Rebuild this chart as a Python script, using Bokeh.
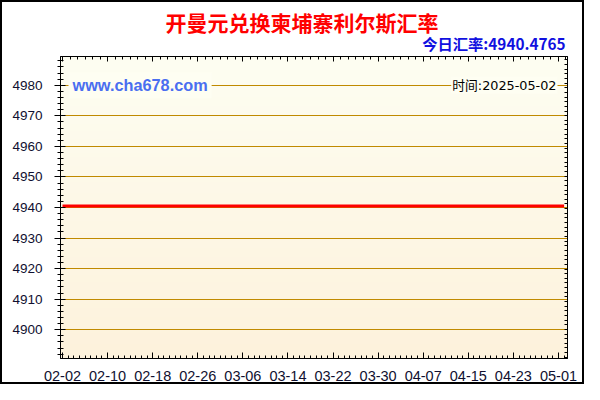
import numpy as np
import pandas as pd
from bokeh.plotting import figure
from bokeh.models import (Range1d, LinearAxis, DatetimeAxis, FixedTicker,
                          SingleIntervalTicker, Label, DatetimeTickFormatter, Grid,
                          Title)
from bokeh.embed import file_html
from bokeh.resources import INLINE

# ---------------- data ----------------
TITLE = "开曼元兑换柬埔寨利尔斯汇率"
TODAY_RATE = "今日汇率:4940.4765"
SITE = "www.cha678.com"
TIME_TEXT = "时间:2025-05-02"

START_DATE = "2025-02-02"
END_DATE = "2025-05-02"

FEB_VALUES = [4940.4765, 4940.4765, 4940.4765, 4940.4765, 4940.4765, 4940.4765, 4940.4765,
              4940.4765, 4940.4765, 4940.4765, 4940.4765, 4940.4765, 4940.4765, 4940.4765,
              4940.4765, 4940.4765, 4940.4765, 4940.4765, 4940.4765, 4940.4765, 4940.4765,
              4940.4765, 4940.4765, 4940.4765, 4940.4765, 4940.4765, 4940.4765]
MAR_VALUES = [4940.4765, 4940.4765, 4940.4765, 4940.4765, 4940.4765, 4940.4765, 4940.4765,
              4940.4765, 4940.4765, 4940.4765, 4940.4765, 4940.4765, 4940.4765, 4940.4765,
              4940.4765, 4940.4765, 4940.4765, 4940.4765, 4940.4765, 4940.4765, 4940.4765,
              4940.4765, 4940.4765, 4940.4765, 4940.4765, 4940.4765, 4940.4765, 4940.4765,
              4940.4765, 4940.4765, 4940.4765]
APR_VALUES = [4940.4765, 4940.4765, 4940.4765, 4940.4765, 4940.4765, 4940.4765, 4940.4765,
              4940.4765, 4940.4765, 4940.4765, 4940.4765, 4940.4765, 4940.4765, 4940.4765,
              4940.4765, 4940.4765, 4940.4765, 4940.4765, 4940.4765, 4940.4765, 4940.4765,
              4940.4765, 4940.4765, 4940.4765, 4940.4765, 4940.4765, 4940.4765, 4940.4765,
              4940.4765, 4940.4765]
MAY_VALUES = [4940.4765, 4940.4765]

TICK_LABELS = ["02-02", "02-10", "02-18", "02-26", "03-06", "03-14",
               "03-22", "03-30", "04-07", "04-15", "04-23", "05-01"]

Y_MIN, Y_MAX = 4890.6, 4989.4
Y_TICK_STEP = 10
Y_TOP_GRID = 4980

# ---------------- derived ----------------
dates = pd.date_range(START_DATE, END_DATE, freq="D")
values = FEB_VALUES + MAR_VALUES + APR_VALUES + MAY_VALUES

def ms(ts):
    return pd.Timestamp(ts).value // 10**6

DAY = 86400000
x_start = ms(START_DATE) - int(0.355 * DAY)
x_end = ms(END_DATE) + int(0.6 * DAY)

major_ms = [ms("2025-" + t) for t in TICK_LABELS]
day_ms = [ms(d) for d in dates]
top_minor = list(np.arange(major_ms[0], x_end, 8 * DAY / 6))
right_minor = list(np.arange(Y_MIN + 0.4, Y_MAX, 1.52))

p = figure(width=584, height=384, output_backend="svg", toolbar_location=None,
           title=None, x_axis_type=None, y_axis_type=None,
           x_range=Range1d(x_start, x_end), y_range=Range1d(Y_MIN, Y_MAX),
           min_border_left=58, min_border_right=19, min_border_top=54,
           min_border_bottom=28)
p.styles = {"border": "2px solid black"}
p.border_fill_color = "white"
p.outline_line_color = "black"

# gradient background of the plotting area
n = 300
top = np.array([254, 254, 242])
bot = np.array([253, 242, 220])
t = np.linspace(0, 1, n)[:, None]
cols = (bot[None, :] * (1 - t) + top[None, :] * t).astype(np.uint32)
img = np.zeros((n, 1), dtype=np.uint32)
view = img.view(dtype=np.uint8).reshape((n, 1, 4))
view[:, 0, 0] = cols[:, 0]
view[:, 0, 1] = cols[:, 1]
view[:, 0, 2] = cols[:, 2]
view[:, 0, 3] = 255
p.image_rgba(image=[img], x=x_start, y=Y_MIN, dw=x_end - x_start, dh=Y_MAX - Y_MIN,
             level="image")

yticker = SingleIntervalTicker(interval=Y_TICK_STEP, num_minor_ticks=5)
p.add_layout(Grid(dimension=1, ticker=yticker, grid_line_color="#c08a00",
                  grid_line_width=1, level="underlay"))

lab_color = "#101030"
left = LinearAxis(ticker=yticker, major_tick_in=5, major_tick_out=6,
                  minor_tick_in=3, minor_tick_out=3, major_label_standoff=12,
                  major_label_text_font="Liberation Sans",
                  major_label_text_font_size="13.5px",
                  major_label_text_color=lab_color,
                  axis_line_color="black", major_tick_line_color="black",
                  minor_tick_line_color="black")
p.add_layout(left, "left")

fmt = DatetimeTickFormatter(days="%m-%d", months="%m-%d", hours="%m-%d",
                            years="%m-%d")
bottom = DatetimeAxis(ticker=FixedTicker(ticks=major_ms, minor_ticks=day_ms),
                      formatter=fmt, major_tick_in=6, major_tick_out=0,
                      minor_tick_in=3, minor_tick_out=0, major_label_standoff=12,
                      major_label_text_font="Liberation Sans",
                      major_label_text_font_size="14.5px",
                      major_label_text_color=lab_color,
                      axis_line_color="black")
p.add_layout(bottom, "below")

topax = DatetimeAxis(ticker=FixedTicker(ticks=major_ms, minor_ticks=top_minor),
                     formatter=fmt, major_tick_in=5, major_tick_out=0,
                     minor_tick_in=3, minor_tick_out=0,
                     major_label_text_font_size="1px", major_label_text_color=None,
                     major_label_standoff=0, axis_line_color="black")
p.add_layout(topax, "above")

# sub title next to the frame, main title above it
p.add_layout(Title(text=TODAY_RATE, align="right", offset=2,
                   text_font="Noto Sans CJK SC", text_font_style="bold",
                   text_font_size="15.3px", text_color="#1010e0", standoff=5),
             "above")
p.add_layout(Title(text=TITLE, align="left", offset=105,
                   text_font="Noto Sans CJK SC", text_font_style="bold",
                   text_font_size="21px", text_color="#ff0000", standoff=-18),
             "above")

rightax = LinearAxis(ticker=FixedTicker(ticks=[], minor_ticks=right_minor),
                     major_tick_in=0, major_tick_out=0, minor_tick_in=3,
                     minor_tick_out=0, major_label_text_font_size="1px",
                     major_label_text_color=None,
                     major_label_standoff=0, axis_line_color="black")
p.add_layout(rightax, "right")

p.line(x=day_ms, y=values, line_color="#ff0000", line_width=3)

bg = "#fefef2"
p.add_layout(Label(x=x_start, y=Y_TOP_GRID, x_offset=8, text=SITE,
                   text_font="Liberation Sans", text_font_style="bold",
                   text_font_size="16.3px", text_color="#4a6ef0",
                   text_baseline="middle", text_align="left",
                   background_fill_color=bg, padding=4))
p.add_layout(Label(x=x_end, y=Y_TOP_GRID, x_offset=-10, text=TIME_TEXT,
                   text_font="DejaVu Sans, Noto Sans CJK SC", text_font_size="12.8px",
                   text_color="black", text_baseline="middle", text_align="right",
                   background_fill_color=bg, padding=1))

open("out.html", "w").write(file_html(p, INLINE))
